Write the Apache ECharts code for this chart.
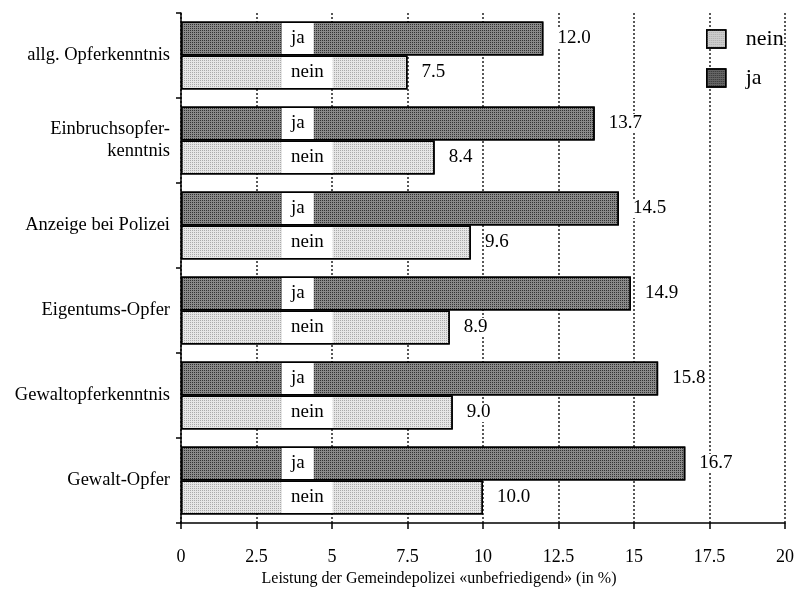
<!DOCTYPE html>
<html><head><meta charset="utf-8">
<script src="https://cdn.jsdelivr.net/npm/echarts@6/dist/echarts.min.js"></script>
<style>html,body{margin:0;padding:0;background:#fff}#c{width:797px;height:601px}</style>
</head><body><div id="c"></div>
<script>
const categories = ['allg. Opferkenntnis', 'Einbruchsopfer-\nkenntnis', 'Anzeige bei Polizei', 'Eigentums-Opfer', 'Gewaltopferkenntnis', 'Gewalt-Opfer'];
const jaValues = [12.0, 13.7, 14.5, 14.9, 15.8, 16.7];
const neinValues = [7.5, 8.4, 9.6, 8.9, 9.0, 10.0];
const xTicks = [0, 2.5, 5, 7.5, 10, 12.5, 15, 17.5, 20];
const xTitle = 'Leistung der Gemeindepolizei «unbefriedigend» (in %)';

const FONT = '"Liberation Serif", "DejaVu Serif", serif';
const chart = echarts.init(document.getElementById('c'));
const catAxis = (show) => ({
  type: 'category', data: categories, inverse: true, show: show,
  axisLine: { show: true, lineStyle: { color: '#000', width: 1.5 } },
  axisTick: { show: true, length: 5, lineStyle: { color: '#000', width: 1.5 } },
  axisLabel: { color: '#000', fontFamily: FONT, fontSize: 18.5, margin: 11, lineHeight: 22, align: 'right' }
});
const JA_COLOR = '#666666', NEIN_COLOR = '#cdcdcd';
const barStyle = (base, dot) => ({
  color: base, borderColor: '#000', borderWidth: 1.5,
  decal: { symbol: 'rect', symbolSize: 1, dashArrayX: [1, 1], dashArrayY: [1, 1], color: dot }
});
const innerLabel = (txt) => ({
  show: true, position: [101, '50%'], verticalAlign: 'middle', align: 'left',
  formatter: txt, color: '#000', fontFamily: FONT, fontSize: 19,
  backgroundColor: '#fff', padding: [6, 9, 6, 9]
});
const valueLabel = {
  show: true, position: 'right', distance: 14, color: '#000', fontFamily: FONT, fontSize: 19,
  backgroundColor: '#fff',
  formatter: p => p.value.toFixed(1)
};
chart.setOption({
  animation: false,
  grid: { left: 181, right: 9, top: 13, bottom: 78 },
  legend: {
    orient: 'vertical', left: 701, top: 23, itemWidth: 19, itemHeight: 18, itemGap: 17,
    icon: 'rect',
    data: [
      { name: 'nein', itemStyle: { color: NEIN_COLOR, borderColor: '#000', borderWidth: 1.5 } },
      { name: 'ja', itemStyle: { color: JA_COLOR, borderColor: '#000', borderWidth: 1.5 } }
    ],
    textStyle: { color: '#000', fontFamily: FONT, fontSize: 22, padding: [0, 0, 0, 15] }
  },
  xAxis: {
    type: 'value', min: 0, max: 20, interval: 2.5,
    name: xTitle, nameLocation: 'middle', nameGap: 44,
    nameTextStyle: { color: '#000', fontFamily: FONT, fontSize: 16, padding: [0, 88, 0, 0] },
    axisLine: { show: true, lineStyle: { color: '#000', width: 1.5 } },
    axisTick: { show: true, length: 6, lineStyle: { color: '#000', width: 1.5 } },
    axisLabel: { color: '#000', fontFamily: FONT, fontSize: 18, margin: 25, formatter: v => String(v) },
    splitLine: { show: true, lineStyle: { color: '#222', type: [2, 2], width: 1.5 } }
  },
  yAxis: [catAxis(true), catAxis(false)],
  series: [
    { name: 'ja', type: 'bar', data: jaValues, yAxisIndex: 0, barWidth: 34, barGap: '0%', barCategoryGap: '20%',
      itemStyle: barStyle('#8a8a8a', '#333333'), label: valueLabel, z: 2 },
    { name: 'nein', type: 'bar', data: neinValues, yAxisIndex: 0, barWidth: 34, barGap: '0%', barCategoryGap: '20%',
      itemStyle: barStyle('#e6e6e6', '#aaaaaa'), label: valueLabel, z: 2 },
    { name: 'jaLbl', type: 'bar', data: jaValues, yAxisIndex: 1, barWidth: 34, barGap: '0%', barCategoryGap: '20%',
      itemStyle: { color: 'rgba(0,0,0,0)' }, label: innerLabel('ja'), z: 3, silent: true, legendHoverLink: false },
    { name: 'neinLbl', type: 'bar', data: neinValues, yAxisIndex: 1, barWidth: 34, barGap: '0%', barCategoryGap: '20%',
      itemStyle: { color: 'rgba(0,0,0,0)' }, label: innerLabel('nein'), z: 3, silent: true, legendHoverLink: false }
  ]
});
</script></body></html>
